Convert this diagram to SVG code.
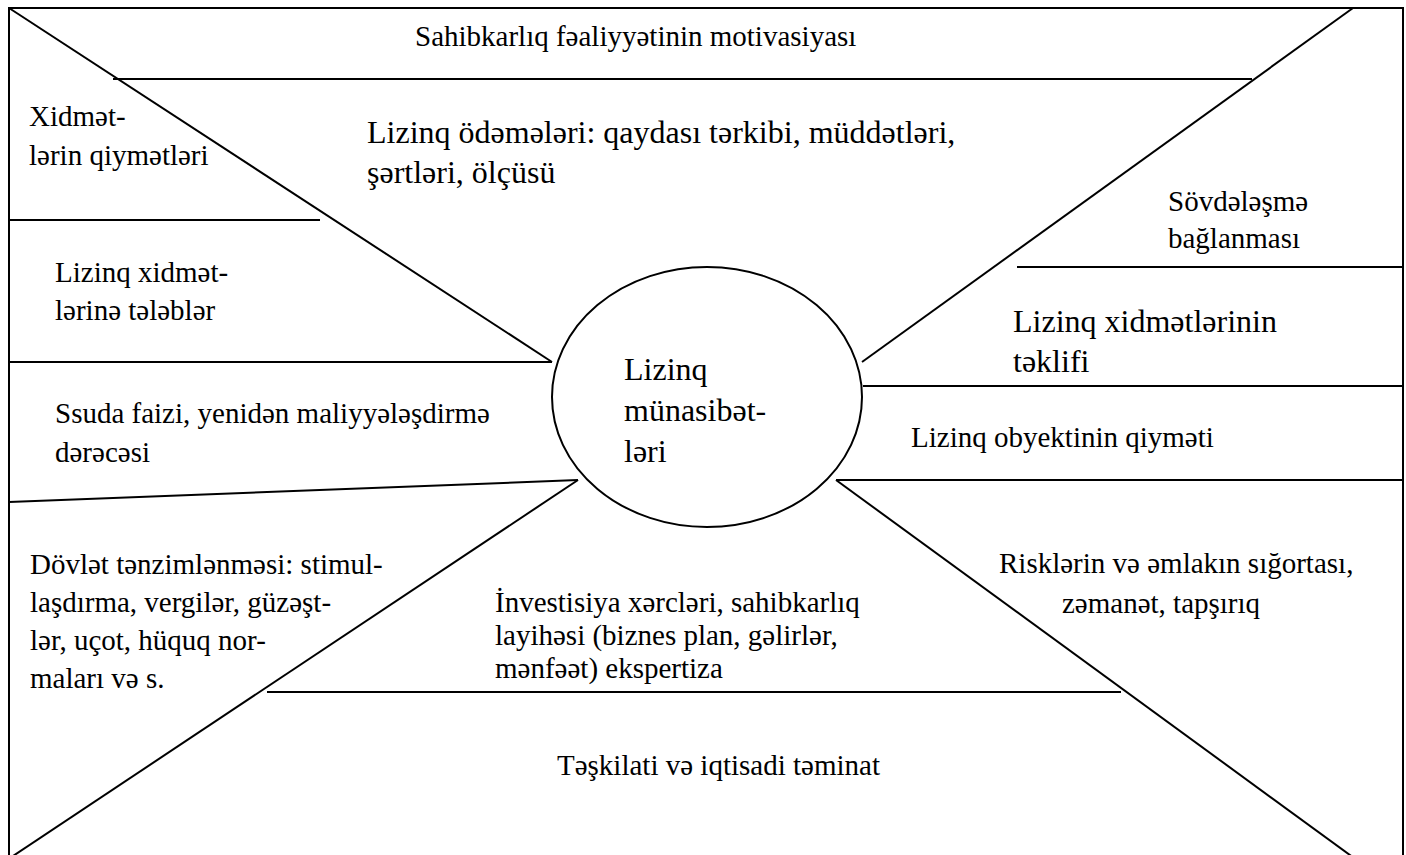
<svg xmlns="http://www.w3.org/2000/svg" width="1406" height="855" viewBox="0 0 1406 855">
  <style>
    .ln { stroke: #000; stroke-width: 2; fill: none; }
    .t { font-family: "Liberation Serif", "Times New Roman", serif; font-size: 29px; fill: #000; }
    .tl { font-family: "Liberation Serif", "Times New Roman", serif; font-size: 32px; fill: #000; }
  </style>
  <rect width="1406" height="855" fill="#fff"/>

  <!-- frame and dividing lines -->
  <g id="connectors">
    <path class="ln" d="M9 860 V8 H1403 V860"/>
    <line class="ln" x1="9" y1="8" x2="552" y2="362"/>
    <line class="ln" x1="1353" y1="8" x2="862" y2="362"/>
    <line class="ln" x1="578" y1="480" x2="10" y2="858"/>
    <line class="ln" x1="836" y1="480" x2="1354" y2="858"/>
    <line class="ln" x1="113" y1="79" x2="1252" y2="79"/>
    <line class="ln" x1="9" y1="220" x2="320" y2="220"/>
    <line class="ln" x1="9" y1="362" x2="552" y2="362"/>
    <line class="ln" x1="9" y1="502" x2="578" y2="480"/>
    <line class="ln" x1="267" y1="692" x2="1121" y2="692"/>
    <line class="ln" x1="1017" y1="267" x2="1403" y2="267"/>
    <line class="ln" x1="863" y1="386" x2="1403" y2="386"/>
    <line class="ln" x1="836" y1="480" x2="1403" y2="480"/>
  </g>

  <g id="center">
    <ellipse class="ln" cx="707" cy="397" rx="155" ry="130" fill="#fff"/>
    <text class="tl" x="624" y="380">Lizinq</text>
    <text class="tl" x="624" y="421">münasibət-</text>
    <text class="tl" x="624" y="462">ləri</text>
  </g>

  <g id="motivation">
    <text class="t" x="415" y="46">Sahibkarlıq fəaliyyətinin motivasiyası</text>
  </g>

  <g id="payments">
    <text class="tl" x="367" y="143">Lizinq ödəmələri: qaydası tərkibi, müddətləri,</text>
    <text class="tl" x="367" y="183">şərtləri, ölçüsü</text>
  </g>

  <g id="service-prices">
    <text class="t" x="29" y="126">Xidmət-</text>
    <text class="t" x="29" y="165">lərin qiymətləri</text>
  </g>

  <g id="requirements">
    <text class="t" x="55" y="282">Lizinq xidmət-</text>
    <text class="t" x="55" y="320">lərinə tələblər</text>
  </g>

  <g id="loan-interest">
    <text class="t" x="55" y="423">Ssuda faizi, yenidən maliyyələşdirmə</text>
    <text class="t" x="55" y="462">dərəcəsi</text>
  </g>

  <g id="state-regulation">
    <text class="t" x="30" y="574">Dövlət tənzimlənməsi: stimul-</text>
    <text class="t" x="30" y="612">laşdırma, vergilər, güzəşt-</text>
    <text class="t" x="30" y="650">lər, uçot, hüquq nor-</text>
    <text class="t" x="30" y="688">maları və s.</text>
  </g>

  <g id="investment">
    <text class="t" x="495" y="612">İnvestisiya xərcləri, sahibkarlıq</text>
    <text class="t" x="495" y="645">layihəsi (biznes plan, gəlirlər,</text>
    <text class="t" x="495" y="678">mənfəət) ekspertiza</text>
  </g>

  <g id="support">
    <text class="t" x="557" y="775">Təşkilati və iqtisadi təminat</text>
  </g>

  <g id="deal">
    <text class="t" x="1168" y="211">Sövdələşmə</text>
    <text class="t" x="1168" y="248">bağlanması</text>
  </g>

  <g id="offer">
    <text class="tl" x="1013" y="332">Lizinq xidmətlərinin</text>
    <text class="tl" x="1013" y="372">təklifi</text>
  </g>

  <g id="object-price">
    <text class="t" x="911" y="447">Lizinq obyektinin qiyməti</text>
  </g>

  <g id="insurance">
    <text class="t" x="999" y="573">Risklərin və əmlakın sığortası,</text>
    <text class="t" x="1062" y="613">zəmanət, tapşırıq</text>
  </g>
</svg>
